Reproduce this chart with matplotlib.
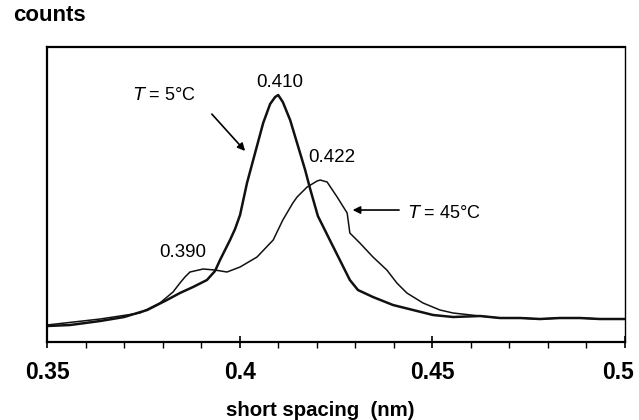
import matplotlib
matplotlib.use("Agg")
import matplotlib.pyplot as plt
import matplotlib.transforms as mtransforms
from matplotlib.ticker import MultipleLocator

plt.rcParams['font.family'] = ['Liberation Sans', 'DejaVu Sans']

# T = 5 C curve (thick)
x5 = [0.3500, 0.3560, 0.3638, 0.3700, 0.3760, 0.3811, 0.3845, 0.3879, 0.3915, 0.3936,
      0.3949, 0.3975, 0.3988, 0.4001, 0.4019, 0.4040, 0.4061, 0.4079, 0.4092, 0.4100,
      0.4112, 0.4131, 0.4149, 0.4170, 0.4183, 0.4203, 0.4234, 0.4260, 0.4286, 0.4307,
      0.4346, 0.4398, 0.4450, 0.4502, 0.4554, 0.4624, 0.4676, 0.4728, 0.4779, 0.4831,
      0.4883, 0.4935, 0.5000]
y5 = [16, 17, 21, 25, 32, 42, 49, 55, 62, 71,
      82, 102, 113, 127, 159, 189, 219, 238, 245, 247,
      240, 222, 199, 172, 153, 126, 102, 82, 62, 52,
      45, 37, 32, 27, 25, 26, 24, 24, 23, 24,
      24, 23, 23]

# T = 45 C curve (thin)
x45 = [0.3500, 0.3638, 0.3741, 0.3793, 0.3827, 0.3845, 0.3858, 0.3871, 0.3905, 0.3936,
       0.3967, 0.4001, 0.4045, 0.4087, 0.4112, 0.4138, 0.4149, 0.4175, 0.4201, 0.4209,
       0.4227, 0.4253, 0.4279, 0.4286, 0.4312, 0.4346, 0.4382, 0.4408, 0.4434, 0.4476,
       0.4520, 0.4554, 0.4624, 0.4676, 0.4728, 0.4779, 0.4831, 0.4883, 0.4935, 0.5000]
y45 = [17, 23, 29, 39, 50, 59, 65, 70, 73, 72,
       70, 75, 85, 102, 122, 139, 145, 155, 161, 162,
       160, 145, 129, 109, 99, 85, 72, 59, 49, 39,
       32, 29, 26, 24, 24, 23, 24, 24, 23, 23]

xticks = [0.35, 0.4, 0.45, 0.5]
xtick_labels = ['0.35', '0.4', '0.45', '0.5']

fig = plt.figure(figsize=(6.39, 4.20), dpi=100)
ax = fig.add_axes([0.0736, 0.1857, 0.9044, 0.7023])

ax.plot(x45, y45, color='#111111', lw=1.1)
ax.plot(x5, y5, color='#111111', lw=1.8)

ax.set_xlim(0.35, 0.5)
ax.set_ylim(0, 295)
ax.xaxis.set_minor_locator(MultipleLocator(0.01))
ax.set_xticks(xticks)
ax.set_xticklabels(xtick_labels, fontsize=16.5, fontweight='bold')
ax.tick_params(axis='x', which='major', direction='inout', length=9, width=1.2, pad=9)
ax.tick_params(axis='x', which='minor', direction='out', length=4, width=1.0)
ax.set_yticks([])
for side in ['left', 'top', 'bottom']:
    ax.spines[side].set_linewidth(1.6)
ax.spines['right'].set_linewidth(1.0)

# last label sits a little left of its tick, like the original
last = ax.get_xticklabels()[-1]
last.set_transform(last.get_transform() +
                   mtransforms.ScaledTranslation(-5 / 72, 0, fig.dpi_scale_trans))

fig.text(320 / 639, 1 - 410 / 420, 'short spacing  (nm)', fontsize=14.7,
         fontweight='bold', ha='center', va='center')
fig.text(0.02, 0.963, 'counts', fontsize=16, fontweight='bold', va='center', ha='left')

ax.text(0.3806, 247, r'$\it{T}$ = 5°C', fontsize=13, ha='center', va='center')
ax.annotate('', xy=(0.4019, 189), xytext=(0.3923, 230),
            arrowprops=dict(arrowstyle='-|>', lw=1.2, color='black', mutation_scale=11))
ax.text(0.4105, 260, '0.410', fontsize=13.5, ha='center', va='center')
ax.text(0.424, 185, '0.422', fontsize=13.5, ha='center', va='center')
ax.text(0.3853, 90, '0.390', fontsize=13.5, ha='center', va='center')
ax.text(0.4437, 129, r'$\it{T}$ = 45°C', fontsize=13, ha='left', va='center')
ax.annotate('', xy=(0.4286, 132), xytext=(0.4421, 132),
            arrowprops=dict(arrowstyle='-|>', lw=1.2, color='black', mutation_scale=11))

fig.savefig('out.png', dpi=100)
